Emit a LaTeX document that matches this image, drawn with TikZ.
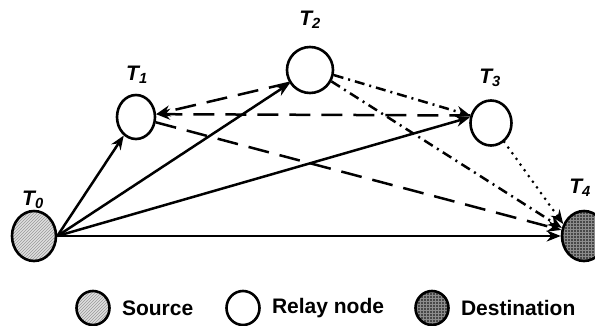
\documentclass[tikz,border=0pt]{standalone}
\usepackage{fontspec}
\setmainfont{Liberation Sans}
\usetikzlibrary{arrows.meta,positioning,patterns,shapes.geometric}

\begin{document}
\begin{tikzpicture}[x=1pt, y=1pt, >={Stealth[length=14pt,width=11pt]},
  font=\fontsize{21}{25}\selectfont\bfseries,
  relay/.style={ellipse, draw, line width=2.6pt, inner sep=0pt,
    minimum width=41pt, minimum height=45pt},
  src/.style={relay, preaction={fill=gray!25},
    pattern=north east lines, pattern color=gray!80},
  dst/.style={relay, preaction={fill=black!72},
    pattern=grid, pattern color=black!45},
  lab/.style={font=\fontsize{21}{25}\selectfont\bfseries\itshape},
  link/.style={->, line width=2.5pt},
  longdash/.style={link, dash pattern=on 21pt off 11pt},
  dashdot/.style={link, dash pattern=on 10pt off 5pt on 2pt off 5pt},
  dotline/.style={link, line cap=round, dash pattern=on 0pt off 7pt},
  legtxt/.style={inner sep=0pt}]
\useasboundingbox (0,0) rectangle (595,325);
% nodes
\node[src, minimum width=44pt, minimum height=50pt] (T0) at (34,89) {};
\node[relay, minimum width=38pt, minimum height=44pt] (T1) at (136,208) {};
\node[relay, minimum width=46pt, minimum height=46pt] (T2) at (310,255) {};
\node[relay] (T3) at (491,202) {};
\node[dst, minimum width=44pt, minimum height=50pt] (T4) at (584,89) {};
\node[lab] (l0) at (33,125) {T\textsubscript{0}};
\node[lab] (l1) at (137,250) {T\textsubscript{1}};
\node[lab] (l2) at (310,305) {T\textsubscript{2}};
\node[lab] (l3) at (490,247) {T\textsubscript{3}};
\node[lab] (l4) at (580,137) {T\textsubscript{4}};
% links
\draw[link] (T0.east) -- (T1);
\draw[link] (T0.east) -- (T2);
\draw[link] (T0.east) -- (T3.165);
\draw[link] (T0.east) -- (T4.west);
\draw[longdash] (T2.212) -- (T1.8);
\draw[longdash] (T3.160) -- (T1.8);
\draw[longdash] (T1.-15) -- (T4.165);
\draw[dashdot] (T2.-12) -- (T3.160);
\draw[dashdot] (T2.-28) -- (T4.160);
\draw[dotline, line width=3pt] (T3.-55) -- (T4.150);
% legend
\node[src, minimum width=33pt, minimum height=34pt] (ksrc) at (93,17) {};
\node[legtxt, right=11pt of ksrc] (ksrctxt) {Source};
\node[relay, minimum width=33pt, minimum height=34pt] (krel) at (243,17) {};
\node[legtxt, right=11pt of krel] (kreltxt) {Relay node};
\node[dst, minimum width=33pt, minimum height=34pt] (kdst) at (432,17) {};
\node[legtxt, right=11pt of kdst] (kdsttxt) {Destination};
\end{tikzpicture}
\end{document}
